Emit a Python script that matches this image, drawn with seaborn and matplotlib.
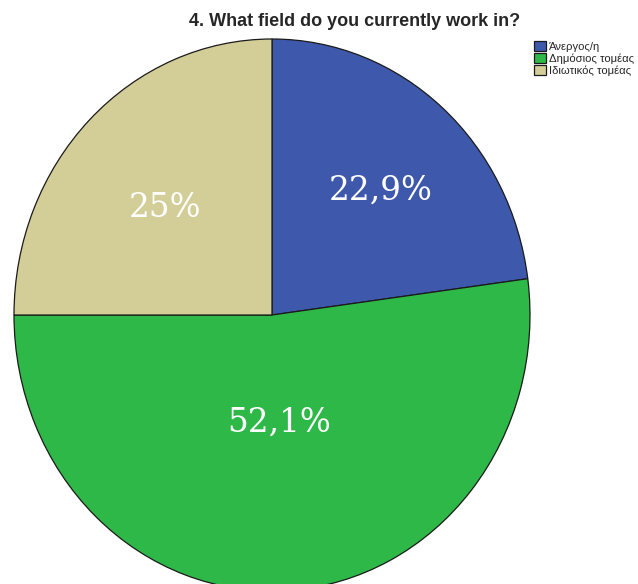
import numpy as np
import matplotlib
matplotlib.use("Agg")
import matplotlib.pyplot as plt
import seaborn as sns

# Survey answers: share of respondents per work field (%)
categories = ["Άνεργος/η", "Δημόσιος τομέας", "Ιδιωτικός τομέας"]
shares = [22.9, 52.1, 25.0]
value_labels = ["22,9%", "52,1%", "25%"]
title_text = "4. What field do you currently work in?"

palette = ["#3E58AC", "#2EB848", "#D3CE97"]

sns.set_theme(style="white")
plt.rcParams["font.family"] = ["Liberation Sans", "DejaVu Sans"]

W, H = 638, 584
fig = plt.figure(figsize=(W / 100, H / 100), dpi=100)
# pie spans x 14..530 px, y 39..591 px (slightly taller than wide)
rx_px, ry_px = 258, 276
ax = fig.add_axes([14 / W, (H - 591) / H, 2 * rx_px / W, 2 * ry_px / H])

wedges, _ = ax.pie(
    shares,
    colors=palette,
    startangle=90,
    counterclock=False,
    wedgeprops=dict(edgecolor="#1a1a1a", linewidth=0.9),
)
ax.set_aspect("auto")
ax.set_xlim(-1, 1)
ax.set_ylim(-1, 1)
ax.axis("off")

# value labels: placed along each wedge's middle angle, distance in pixels
label_dist_px = [165, 108, 152]
for w, txt, d in zip(wedges, value_labels, label_dist_px):
    mid = np.deg2rad((w.theta1 + w.theta2) / 2)
    ax.text(d * np.cos(mid) / rx_px, d * np.sin(mid) / ry_px, txt,
            ha="center", va="center", color="white", fontsize=23.5,
            family=["DejaVu Serif"])

narrow = ["Liberation Sans Narrow", "Liberation Sans", "DejaVu Sans"]
fig.text(355 / W, 1 - 22 / H, title_text, ha="center", va="center",
         fontsize=13, fontweight="bold", family=narrow)

fig.legend(wedges, categories, loc="upper left",
           bbox_to_anchor=(532 / W, 1 - 39 / H), frameon=False,
           prop=dict(family=narrow, size=8.1),
           handlelength=1.0, handleheight=1.0, handletextpad=0.3,
           labelspacing=0.1, borderpad=0.2, borderaxespad=0)

fig.savefig("out.png", dpi=100)
